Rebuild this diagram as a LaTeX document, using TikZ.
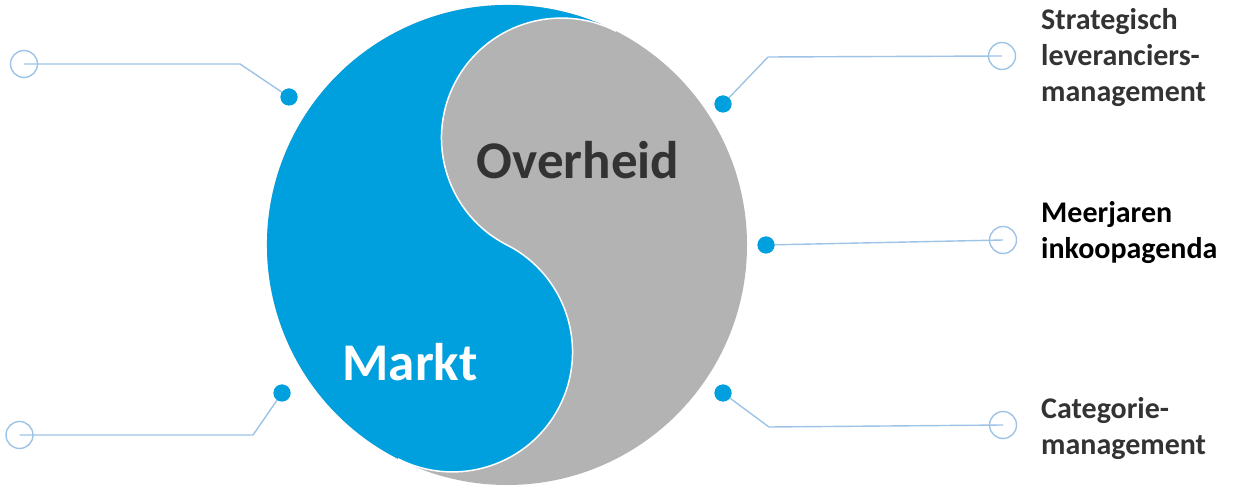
\documentclass[tikz,border=0pt]{standalone}
\usepackage{fontspec}
\setmainfont{Carlito}
\definecolor{yblue}{RGB}{0,160,223}
\definecolor{ygray}{RGB}{179,179,179}
\definecolor{lline}{RGB}{157,195,230}
\definecolor{dtext}{RGB}{51,51,51}
\begin{document}
\begin{tikzpicture}[x=1pt,y=1pt,
  dotnode/.style={circle,fill=yblue,inner sep=0pt,minimum size=17pt},
  ringnode/.style={circle,draw=lline,line width=1.4pt,inner sep=0pt,minimum size=27pt},
  link/.style={draw=lline,line width=1.4pt},
  bigtext/.style={font=\fontsize{53}{60}\selectfont\bfseries},
  label/.style={font=\fontsize{30}{36}\selectfont\bfseries,align=left,anchor=west,inner sep=0pt,text=dtext}]
\useasboundingbox (0,0) rectangle (1238,487);
% yin-yang
\coordinate (C) at (507,242);
\fill[ygray] (C) circle[radius=240];
\fill[yblue] ([shift={(63:240)}]C) arc[start angle=63,end angle=243,radius=240]
  arc[start angle=243,end angle=423,radius=120]
  arc[start angle=243,end angle=63,radius=120] -- cycle;
\draw[white,line width=1.5pt] ([shift={(243:240)}]C) arc[start angle=243,end angle=423,radius=120]
  arc[start angle=243,end angle=63,radius=120];
\node[bigtext,text=dtext] (ov) at (578,327) {Overheid};
\node[bigtext,text=white] (mk) at (410,125) {Markt};
% connectors left
\node[ringnode] (r1) at (24,423) {};
\node[dotnode] (d1) at (289,390) {};
\coordinate (b1) at (240,423);
\draw[link] (d1.center) -- (b1) -- (r1.center);
\node[ringnode] (r2) at (19.5,52) {};
\node[dotnode] (d2) at (282,94) {};
\coordinate (b2) at (253,52);
\draw[link] (d2.center) -- (b2) -- (r2.center);
% connectors right
\node[ringnode] (r3) at (1002,431) {};
\node[dotnode] (d3) at (723,383) {};
\coordinate (b3) at (768,430);
\draw[link] (d3.center) -- (b3) -- (r3.center);
\node[ringnode] (r4) at (1003,247) {};
\node[dotnode] (d4) at (766,242) {};
\draw[link] (d4.center) -- (r4.center);
\node[ringnode] (r5) at (1003,62) {};
\node[dotnode] (d5) at (723,94) {};
\coordinate (b5) at (769,60);
\draw[link] (d5.center) -- (b5) -- (r5.center);
% redraw dots on top
\fill[yblue] (d1) circle[radius=8.5] (d2) circle[radius=8.5] (d3) circle[radius=8.5] (d4) circle[radius=8.5] (d5) circle[radius=8.5];
% labels
\node[label] (t1) at (1041,429.5) {Strategisch\\leveranciers-\\management};
\node[label,text=black] (t2) at (1041,254) {Meerjaren\\inkoopagenda};
\node[label] (t3) at (1041,58.5) {Categorie-\\management};
\end{tikzpicture}
\end{document}
